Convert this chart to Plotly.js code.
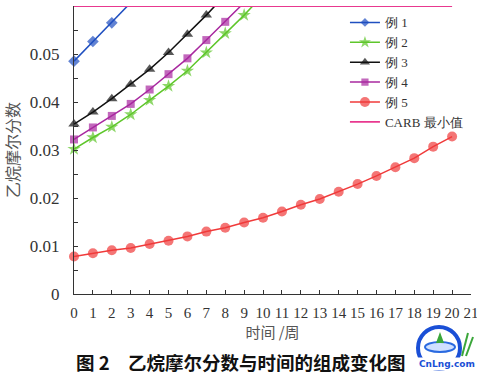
<!DOCTYPE html>
<html>
<head>
<meta charset="utf-8">
<script src="https://cdn.plot.ly/plotly-3.0.1.min.js"></script>
<style>html,body{margin:0;padding:0;background:#fff;}#chart{width:477px;height:376px;}</style>
</head>
<body>
<div id="chart"></div>
<script>
// Weeks
var weeks = [0,1,2,3,4,5,6,7,8,9,10,11,12,13,14,15,16,17,18,19,20];
// Ethane mole fraction per case (values past the 0.06 ceiling continue off the chart)
var case1 = [0.0485, 0.0526, 0.0565, 0.0607];
var case2 = [0.0302, 0.0326, 0.0348, 0.0374, 0.0404, 0.0433, 0.0465, 0.0503, 0.0543, 0.0581, 0.0623];
var case3 = [0.0354, 0.0379, 0.0407, 0.0437, 0.0468, 0.0503, 0.0541, 0.0581, 0.0623];
var case4 = [0.0322, 0.0347, 0.0371, 0.0396, 0.0426, 0.0458, 0.0491, 0.0529, 0.0567, 0.0607];
var case5 = [0.0078, 0.0085, 0.0091, 0.0096, 0.0104, 0.0111, 0.0120, 0.0130, 0.0138, 0.0149, 0.0159, 0.0172, 0.0186, 0.0198, 0.0213, 0.0229, 0.0246, 0.0264, 0.0283, 0.0307, 0.0328];
var carbWeeks = [0, 20];
var carbMin = [0.06, 0.06];
var seriesNames = ['例 1', '例 2', '例 3', '例 4', '例 5', 'CARB 最小值'];
var xTicks = [0,1,2,3,4,5,6,7,8,9,10,11,12,13,14,15,16,17,18,19,20,21];
var yTicks = [0, 0.01, 0.02, 0.03, 0.04, 0.05, 0.06];

var YMAX = 0.06;
function sizes(vals, s){ return vals.map(function(v){ return v > YMAX ? 0 : s; }); }

var specs = [
  {y: case1, color: '#1f4fc0', symbol: 'diamond', size: 9},
  {y: case2, color: '#5ec62a', symbol: 'star', size: 10},
  {y: case3, color: '#111111', symbol: 'triangle-up', size: 10},
  {y: case4, color: '#a8289f', symbol: 'square', size: 8},
  {y: case5, color: '#f03a3a', symbol: 'circle', size: 10}
];
var traces = specs.map(function(s, i){
  return {
    x: weeks.slice(0, s.y.length), y: s.y, name: seriesNames[i],
    type: 'scatter', mode: 'lines+markers', cliponaxis: false,
    line: {color: s.color, width: 1.5},
    marker: {color: s.color, symbol: s.symbol, size: sizes(s.y, s.size), line: {width: 0}}
  };
});
traces.push({
  x: carbWeeks, y: carbMin, name: seriesNames[5], type: 'scatter', mode: 'lines',
  cliponaxis: false, line: {color: '#e8388f', width: 1.8}
});

var serif = 'Liberation Serif';
// logo position helpers (paper coords from pixel)
function px(x){ return (x - 74) / 397; }
function py(y){ return (294 - y) / 288; }

var layout = {
  width: 477, height: 376,
  margin: {l: 74, r: 6, t: 6, b: 82},
  paper_bgcolor: '#fff', plot_bgcolor: '#fff',
  showlegend: true,
  font: {family: serif, color: '#333', size: 15},
  xaxis: {
    range: [0, 21], tickvals: xTicks, ticktext: xTicks.map(String),
    ticks: 'inside', ticklen: 4, tickcolor: '#333', showline: true, linecolor: '#333', linewidth: 1,
    showgrid: false, zeroline: false, ticklabelstandoff: 5, ticklabeloverflow: 'allow',
    tickfont: {family: serif, size: 15, color: '#333'},
    title: {text: '时间 /周', font: {family: 'Noto Sans CJK SC', size: 15, color: '#555'}, standoff: 7}
  },
  yaxis: {
    range: [0, 0.06], tickvals: yTicks, ticktext: yTicks.map(String),
    ticks: 'inside', ticklen: 4, tickcolor: '#333', showline: true, linecolor: '#333', linewidth: 1,
    showgrid: false, zeroline: false, ticklabelstandoff: 10,
    minor: {dtick: 0.005, ticks: 'inside', ticklen: 4, tickcolor: '#333', showgrid: false},
    tickfont: {family: serif, size: 17, color: '#333'},
    title: {text: '乙烷摩尔分数', font: {family: 'Noto Sans CJK SC', size: 16, color: '#555'}, standoff: 7}
  },
  legend: {
    x: 0.6825, y: 0.995, xanchor: 'left', yanchor: 'top',
    bgcolor: 'rgba(255,255,255,0)', borderwidth: 0, itemwidth: 30,
    font: {family: serif, size: 13, color: '#333'}, tracegroupgap: 0
  },
  annotations: [
    {xref: 'paper', yref: 'paper', x: px(241), y: py(362), xanchor: 'center', yanchor: 'middle',
     text: '<b>图 2　乙烷摩尔分数与时间的组成变化图</b>', showarrow: false,
     font: {family: 'Noto Sans CJK SC', size: 18.5, color: '#111'}},
    {xref: 'paper', yref: 'paper', x: px(447), y: py(364), xanchor: 'center', yanchor: 'middle',
     text: '<b>CnLng.com</b>', showarrow: false, bgcolor: '#fff',
     font: {family: 'DejaVu Sans', size: 9, color: '#1a4fd6'}}
  ],
  shapes: [
    {type: 'circle', xref: 'paper', yref: 'paper', x0: px(418), x1: px(460), y0: py(369), y1: py(327),
     line: {color: '#1a4fd6', width: 4}},
    {type: 'circle', xref: 'paper', yref: 'paper', x0: px(425), x1: px(455), y0: py(352), y1: py(342),
     line: {color: '#2a6ae0', width: 2}, fillcolor: '#cfe0ff'},
    {type: 'path', xref: 'paper', yref: 'paper',
     path: 'M ' + px(440) + ' ' + py(332) + ' L ' + px(436) + ' ' + py(343) + ' L ' + px(444) + ' ' + py(343) + ' Z',
     fillcolor: '#3aa63a', line: {width: 0}},
    {type: 'line', xref: 'paper', yref: 'paper', x0: px(462), y0: py(356), x1: px(468), y1: py(333), line: {color: '#3aa63a', width: 2}},
    {type: 'line', xref: 'paper', yref: 'paper', x0: px(466), y0: py(356), x1: px(473), y1: py(337), line: {color: '#3aa63a', width: 2}}
  ]
};

Plotly.newPlot('chart', traces, layout, {displayModeBar: false, staticPlot: true});
</script>
</body>
</html>
